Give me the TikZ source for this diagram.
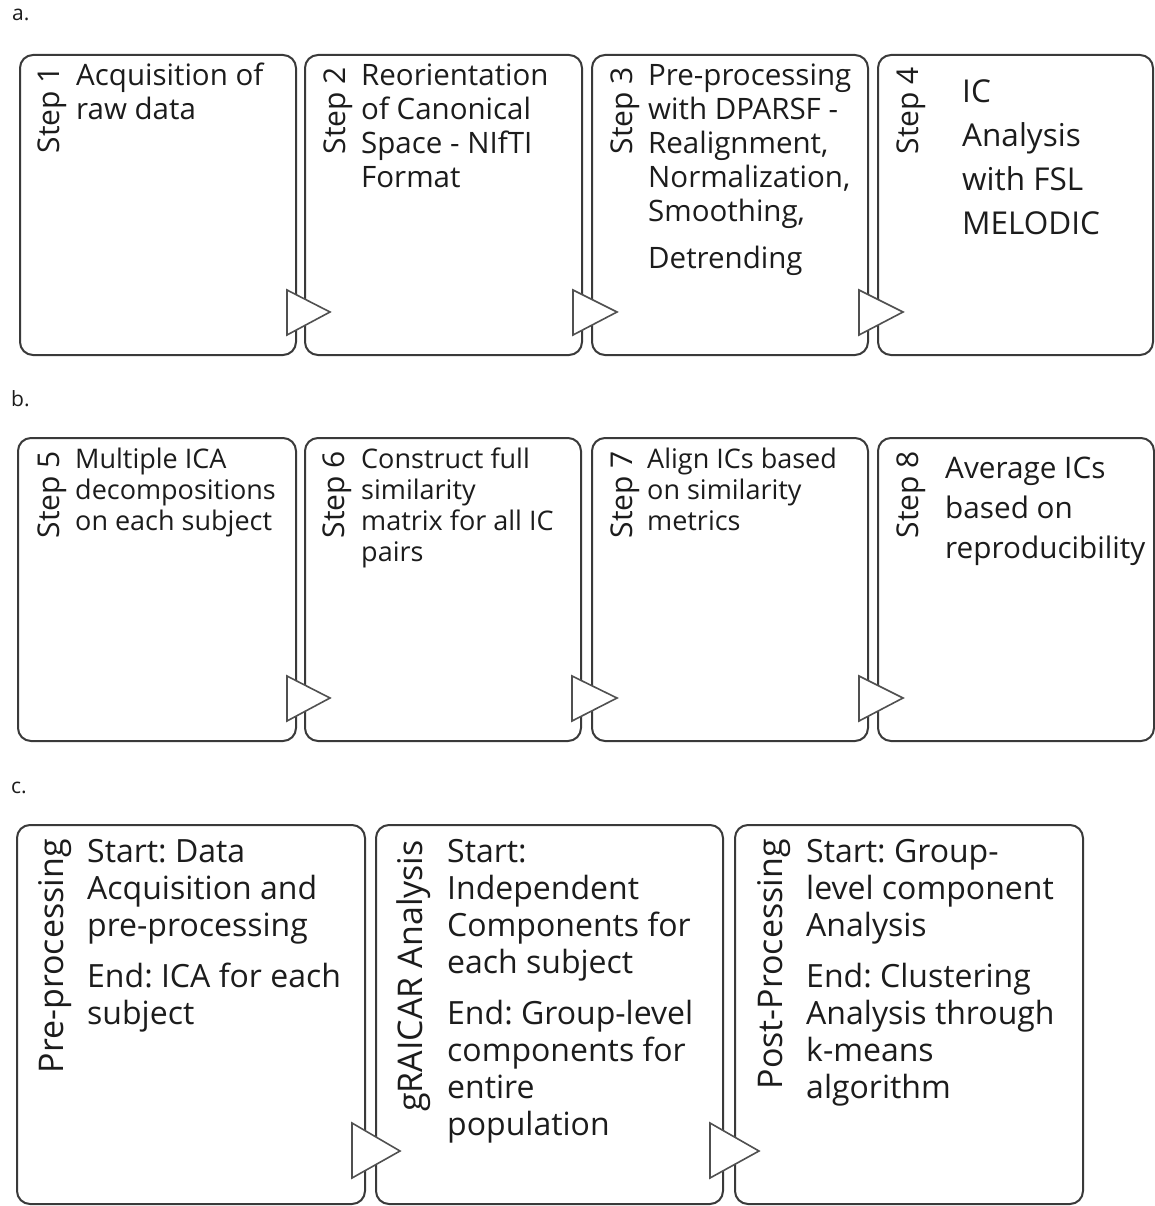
\documentclass[tikz,border=0pt]{standalone}
\usepackage{fontspec}
\setmainfont{Open Sans}
\usetikzlibrary{calc}
\definecolor{edge}{HTML}{3A3A3A}
\definecolor{ink}{HTML}{1C1C1C}
\definecolor{triedge}{HTML}{505050}
\newcommand\fsz[2]{\fontsize{#1}{#2}\selectfont}
\frenchspacing
\begin{document}
\begin{tikzpicture}[x=1pt,y=-1pt,
  stepbox/.style={draw=edge, line width=2pt, rounded corners=13pt, fill=white,
    inner sep=0pt, outer sep=0pt, anchor=north west},
  chevron/.style={draw=triedge, line width=1.6pt, fill=white, line join=miter},
  steplabel/.style={rotate=90, anchor=base east, inner sep=0pt, text=ink, font=\fsz{30}{36}},
  phaselabel/.style={rotate=90, anchor=base east, inner sep=0pt, text=ink, font=\fsz{34}{40}},
  body/.style={anchor=base west, inner sep=0pt, text=ink},
  panel/.style={anchor=base west, inner sep=0pt, text=ink, font=\fsz{21}{25}}]
\fill[white] (0,0) rectangle (1155,1206);
\useasboundingbox (0,0) rectangle (1155,1206);

% panel letters
\node[panel] (pa) at (12,21) {a.};
\node[panel] (pb) at (11,406) {b.};
\node[panel] (pc) at (11,793) {c.};

% ---- row a: steps 1-4
\node[stepbox, minimum width=276pt, minimum height=300pt] (s1) at (20,55) {};
\node[stepbox, minimum width=277pt, minimum height=300pt] (s2) at (305,55) {};
\node[stepbox, minimum width=276pt, minimum height=300pt] (s3) at (592,55) {};
\node[stepbox, minimum width=275pt, minimum height=300pt] (s4) at (878,55) {};

% ---- row b: steps 5-8
\node[stepbox, minimum width=278pt, minimum height=303pt] (s5) at (18,438) {};
\node[stepbox, minimum width=276pt, minimum height=303pt] (s6) at (305,438) {};
\node[stepbox, minimum width=276pt, minimum height=303pt] (s7) at (592,438) {};
\node[stepbox, minimum width=276pt, minimum height=303pt] (s8) at (878,438) {};

% ---- row c: phases
\node[stepbox, minimum width=348pt, minimum height=379pt] (c1) at (17,825) {};
\node[stepbox, minimum width=347pt, minimum height=379pt] (c2) at (376,825) {};
\node[stepbox, minimum width=348pt, minimum height=379pt] (c3) at (735,825) {};

% chevrons joining neighbouring boxes
\foreach \a/\b in {s1/s2, s2/s3, s3/s4, s5/s6, s6/s7, s7/s8}{
  \draw[chevron] ($(\a.south east)+(-9,-65)$) -- ($(\a.south east)+(-9,-20)$)
    -- ($(\b.south west)+(25,-43)$) -- cycle;
}
\foreach \a/\b in {c1/c2, c2/c3}{
  \draw[chevron] ($(\a.south east)+(-13,-81)$) -- ($(\a.south east)+(-13,-26)$)
    -- ($(\b.south west)+(24,-53)$) -- cycle;
}

% step labels
\node[steplabel] (l1) at (59,66) {Step 1};
\node[steplabel] (l2) at (345,67) {Step 2};
\node[steplabel] (l3) at (632,67) {Step 3};
\node[steplabel] (l4) at (918,67) {Step 4};
\node[steplabel] (l5) at (59,451) {Step 5};
\node[steplabel] (l6) at (344,451) {Step 6};
\node[steplabel] (l7) at (632,451) {Step 7};
\node[steplabel] (l8) at (918,451) {Step 8};

% step texts
\node[body] (t1) at (76,86) {\parbox[t]{215pt}{\fsz{29.5}{34}Acquisition of\\raw data}};
\node[body] (t2) at (361,86) {\parbox[t]{215pt}{\fsz{29.5}{34}Reorientation\\of Canonical\\Space - NIfTI\\Format}};
\node[body] (t3) at (648,86) {\parbox[t]{215pt}{\fsz{29.5}{34}Pre-processing\\with DPARSF -\\Realignment,\\Normalization,\\Smoothing,\\[13pt]Detrending}};
\node[body] (t4) at (962,103) {\parbox[t]{190pt}{\fsz{31.5}{44}IC\\Analysis\\with FSL\\MELODIC}};
\node[body] (t5) at (75,468) {\parbox[t]{215pt}{\fsz{27}{31}Multiple ICA\\decompositions\\on each subject}};
\node[body] (t6) at (361,468) {\parbox[t]{215pt}{\fsz{27}{31}Construct full\\similarity\\matrix for all IC\\pairs}};
\node[body] (t7) at (647,468) {\parbox[t]{215pt}{\fsz{27}{31}Align ICs based\\on similarity\\metrics}};
\node[body] (t8) at (945,478) {\parbox[t]{215pt}{\fsz{29.7}{40}Average ICs\\based on\\reproducibility}};

% phase labels
\node[phaselabel] (p1) at (63,839) {Pre-processing};
\node[phaselabel] (p2) at (422,840) {gRAICAR Analysis};
\node[phaselabel] (p3) at (782,839) {Post-Processing};

% phase texts
\node[body] (u1) at (87,862) {\parbox[t]{270pt}{\fsz{32}{37}Start: Data\\Acquisition and\\pre-processing\\[14pt]End: ICA for each\\subject}};
\node[body] (u2) at (447,862) {\parbox[t]{270pt}{\fsz{32}{37}Start:\\Independent\\Components for\\each subject\\[14pt]End: Group-level\\components for\\entire\\population}};
\node[body] (u3) at (806,862) {\parbox[t]{270pt}{\fsz{32}{37}Start: Group-\\level component\\Analysis\\[14pt]End: Clustering\\Analysis through\\k-means\\algorithm}};
\end{tikzpicture}
\end{document}
